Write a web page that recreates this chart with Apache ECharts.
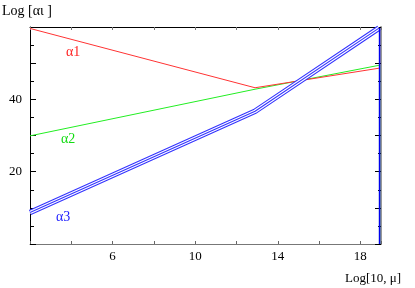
<!DOCTYPE html>
<html>
<head>
<meta charset="utf-8">
<script src="https://cdn.jsdelivr.net/npm/echarts@6/dist/echarts.min.js"></script>
<style>html,body{margin:0;padding:0;background:#fff}#c{width:415px;height:288px}</style>
</head>
<body>
<div id="c"></div>
<script>
// Data
var mu = [2, 12.9, 18.9];
var alpha1 = [59.6, 43.2, 48.6];
var alpha2 = [29.9, 42.8, 49.4];
var alpha3 = [8.7, 36.7, 59.7];
var dropX = 18.93;
var alpha3Drop = [59.7, 0];
var alpha2Drop = [49.4, 0];
var xLabels = [6, 10, 14, 18];
var yLabels = [20, 40];

function pairs(xs, ys) { return xs.map(function (x, i) { return [x, ys[i]]; }); }
function drop(ys) { return ys.map(function (y) { return [dropX, y]; }); }

var FONT = '"Liberation Serif", "DejaVu Serif", serif';
var chart = echarts.init(document.getElementById('c'), null, { renderer: 'canvas' });

function lineSeries(data, color, width, z) {
  return { type: 'line', data: data, symbol: 'none', silent: true, z: z,
    lineStyle: { color: color, width: width }, animation: false };
}

chart.setOption({
  animation: false,
  grid: { left: 30, top: 27, right: 34, bottom: 44, containLabel: false },
  xAxis: [{
    type: 'value', min: 2, max: 19, interval: 2, position: 'bottom',
    axisLine: { show: true, lineStyle: { color: '#777', width: 1 } },
    axisTick: { show: true, inside: true, length: 3, lineStyle: { color: '#666' } },
    axisLabel: { color: '#000', fontFamily: FONT, fontSize: 13, margin: 6,
      formatter: function (v) { return xLabels.indexOf(v) >= 0 ? String(v) : ''; } },
    splitLine: { show: false }
  }, {
    type: 'value', min: 2, max: 19, interval: 2, position: 'top',
    axisLine: { show: true, onZero: false, lineStyle: { color: '#000', width: 1 } },
    axisTick: { show: true, inside: true, length: 3, lineStyle: { color: '#777' } },
    axisLabel: { show: false }, splitLine: { show: false }
  }],
  yAxis: [{
    type: 'value', min: 0, max: 60, interval: 10, position: 'left',
    axisLine: { show: true, onZero: false, lineStyle: { color: '#000', width: 1 } },
    axisTick: { show: true, inside: true, length: 6, lineStyle: { color: '#000' } },
    minorTick: { show: true, splitNumber: 2, length: 4, lineStyle: { color: '#000' } },
    axisLabel: { color: '#000', fontFamily: FONT, fontSize: 13, margin: 8,
      formatter: function (v) { return yLabels.indexOf(v) >= 0 ? String(v) : ''; } },
    splitLine: { show: false }
  }, {
    type: 'value', min: 0, max: 60, interval: 10, position: 'right',
    axisLine: { show: true, onZero: false, lineStyle: { color: '#999', width: 2 } },
    axisTick: { show: true, inside: true, length: 6, lineStyle: { color: '#000' } },
    minorTick: { show: true, splitNumber: 2, length: 3, lineStyle: { color: '#000' } },
    axisLabel: { show: false }, splitLine: { show: false }
  }],
  series: [
    lineSeries(drop(alpha2Drop), '#33dd33', 1.2, 2),
    lineSeries(pairs(mu, alpha2), '#22ee22', 1, 3),
    lineSeries(pairs(mu, alpha1), '#ff3333', 1, 3),
    lineSeries(pairs(mu, alpha3), '#3333ff', 5.6, 4),
    lineSeries(pairs(mu, alpha3), '#ffffff', 3.4, 5),
    lineSeries(pairs(mu, alpha3), '#3333ff', 1.1, 6),
    lineSeries(drop(alpha3Drop), '#0000ee', 1.5, 7)
  ],
  graphic: [
    { type: 'text', left: 2, top: 4, style: { text: 'Log [αι ]', fill: '#000', font: '14px ' + FONT } },
    { type: 'text', left: 345, top: 272, style: { text: 'Log[10, μ]', fill: '#000', font: '13px ' + FONT } },
    { type: 'text', left: 66, top: 45, style: { text: 'α1', fill: '#ff2222', font: '14px ' + FONT } },
    { type: 'text', left: 61, top: 132, style: { text: 'α2', fill: '#11dd11', font: '14px ' + FONT } },
    { type: 'text', left: 56, top: 210, style: { text: 'α3', fill: '#2222ff', font: '14px ' + FONT } }
  ]
});
</script>
</body>
</html>
